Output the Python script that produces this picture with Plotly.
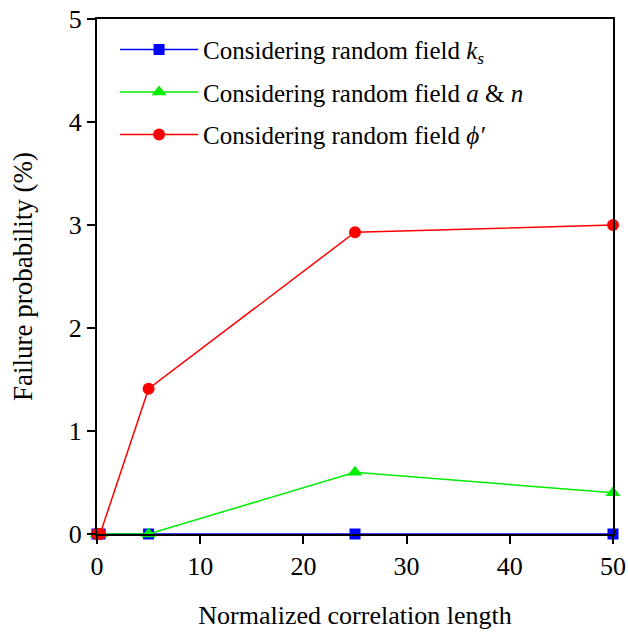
import plotly.graph_objects as go

x_vals = [0, 0.3, 5, 25, 50]
ks_vals = [0, 0, 0, 0, 0]
an_vals = [0, 0, 0, 0.6, 0.4]
phi_vals = [0, 0, 1.41, 2.93, 3.0]

names = [
    "Considering random field <i>k</i><sub><i>s</i></sub>",
    "Considering random field <i>a</i> &amp; <i>n</i>",
    "Considering random field <i>\u03d5\u2032</i>",
]

FAM = "Liberation Serif"

fig = go.Figure()
fig.add_trace(go.Scatter(x=x_vals, y=ks_vals, mode="lines+markers", name=names[0],
                         legendgroup="g1",
                         line=dict(color="#0000ff", width=1.5),
                         marker=dict(symbol="square", size=11, color="#0000ff")))
fig.add_trace(go.Scatter(x=x_vals, y=an_vals, mode="lines+markers", name=names[1],
                         legendgroup="g2",
                         line=dict(color="#00ee00", width=1.5),
                         marker=dict(symbol="triangle-up", size=13, color="#00ee00")))
fig.add_trace(go.Scatter(x=x_vals, y=phi_vals, mode="lines+markers", name=names[2],
                         legendgroup="g3",
                         line=dict(color="#ff0000", width=1.5),
                         marker=dict(symbol="circle", size=12, color="#ff0000")))

fig.update_layout(
    width=628, height=632,
    margin=dict(l=97, r=15, t=19, b=98, autoexpand=False),
    plot_bgcolor="white", paper_bgcolor="white",
    font=dict(family=FAM, size=24, color="black"),
    showlegend=True,
    legend=dict(x=0.035, y=0.985, xanchor="left", yanchor="top",
                bgcolor="rgba(0,0,0,0)",
                font=dict(family=FAM, size=25, color="black"),
                itemwidth=78, traceorder="grouped", tracegroupgap=7),
    xaxis=dict(range=[0, 50], tickvals=[0, 10, 20, 30, 40, 50],
               ticks="outside", ticklen=8, tickwidth=2, tickcolor="black",
               showline=True, linecolor="black", linewidth=2, mirror=True,
               showgrid=False, zeroline=False, automargin=False,
               title=dict(text="Normalized correlation length", standoff=26,
                          font=dict(family=FAM, size=26, color="black")),
               tickfont=dict(family=FAM, size=26, color="black")),
    yaxis=dict(range=[0, 5], tickvals=[0, 1, 2, 3, 4, 5],
               ticks="outside", ticklen=8, tickwidth=2, tickcolor="black",
               showline=True, linecolor="black", linewidth=2, mirror=True,
               showgrid=False, zeroline=False, automargin=False,
               title=dict(text="Failure probability (%)", standoff=28,
                          font=dict(family=FAM, size=27, color="black")),
               tickfont=dict(family=FAM, size=26, color="black")),
)
fig.update_traces(cliponaxis=False)
fig.write_html("out.html", config={"displayModeBar": False},
               post_script="document.body.style.margin='0';document.body.style.overflow='hidden';")
